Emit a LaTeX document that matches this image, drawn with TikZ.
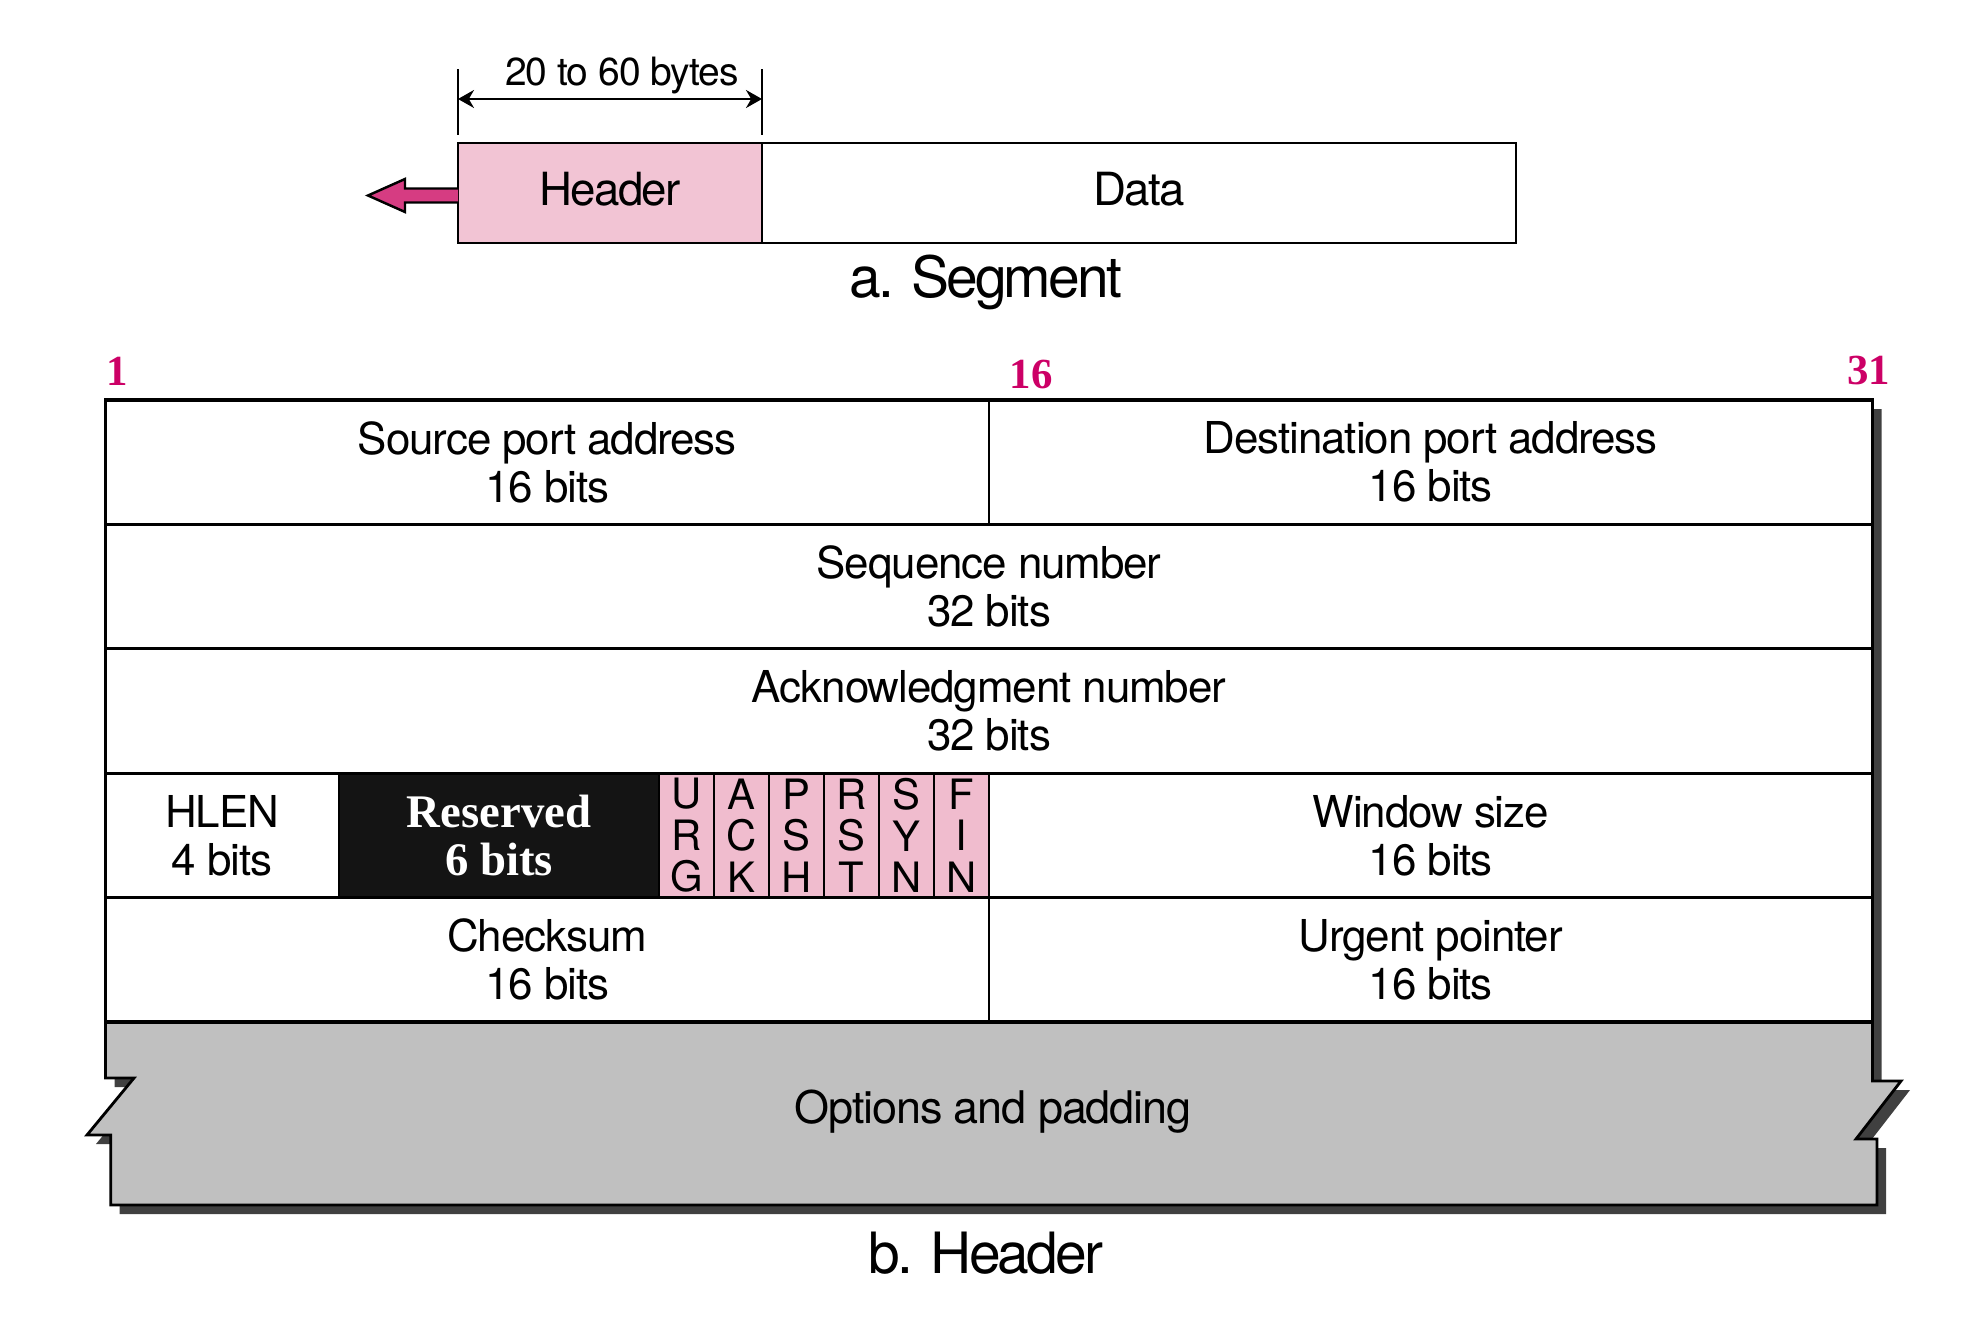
\documentclass[tikz,border=0pt]{standalone}
\usepackage{fontspec}
\setmainfont{TeX Gyre Heros}[LetterSpace=-2.5]
\newfontfamily\segfont{TeX Gyre Heros}[LetterSpace=-4]
\newfontfamily\capfont{TeX Gyre Heros}[LetterSpace=-5]
\newfontfamily\flagfont{TeX Gyre Heros}
\newfontfamily\timesfont{Liberation Serif}
\usetikzlibrary{positioning,calc,arrows.meta}

\definecolor{hdrpink}{RGB}{242,196,212}
\definecolor{flagpink}{RGB}{240,188,206}
\definecolor{arrowpink}{RGB}{214,60,130}
\definecolor{bitred}{RGB}{204,0,102}
\definecolor{optgray}{RGB}{192,192,192}
\definecolor{shadowgray}{RGB}{64,64,64}

\begin{document}
\begin{tikzpicture}[
    line width=0.8pt,
    field/.style={draw, rectangle, fill=white, outer sep=0pt, inner sep=0pt, minimum height=1.244cm, align=center, font=\fontsize{12.5}{13.7}\selectfont},
    half/.style={field, minimum width=8.835cm},
    full/.style={field, minimum width=17.67cm},
    flagbit/.style={field, fill=flagpink, minimum width=0.55cm, font=\flagfont\fontsize{11.9}{11.8}\selectfont},
    segbox/.style={draw, rectangle, outer sep=0pt, minimum height=1.0cm, text height=0.33cm, text depth=0.09cm, font=\segfont\fontsize{13}{15}\selectfont},
    bitnum/.style={text=bitred, font=\timesfont\bfseries\fontsize{12.2}{14}\selectfont},
    caption/.style={anchor=base, font=\capfont\fontsize{16.2}{18}\selectfont},
    dimarrow/.style={{Stealth[length=0.16cm,width=0.18cm]}-{Stealth[length=0.16cm,width=0.18cm]}, line width=0.6pt}
]
    \useasboundingbox (0,0) rectangle (19.84,-13.28);

    % a. Segment
    \node[segbox, fill=hdrpink, minimum width=3.04cm] (seghdr) at (6.10,-1.93) {Header};
    \node[segbox, fill=white, minimum width=7.54cm, right=0pt of seghdr] (segdata) {Data};
    \draw[fill=arrowpink, line width=0.7pt] ([yshift=-0.095cm]seghdr.west) -- ++(-0.53,0) -- ++(0,-0.095)
        -- ++(-0.37,0.165) -- ++(0.37,0.165) -- ++(0,-0.095) -- ++(0.53,0);
    \draw[line width=0.6pt] ([yshift=0.08cm]seghdr.north west) -- ++(0,0.66);
    \draw[line width=0.6pt] ([yshift=0.08cm]seghdr.north east) -- ++(0,0.66);
    \draw[dimarrow] ([yshift=0.44cm]seghdr.north west) -- node[above=0.04cm, inner sep=0pt, xshift=0.12cm, font=\fontsize{11.1}{13}\selectfont] {20 to 60 bytes} ([yshift=0.44cm]seghdr.north east);
    \node[caption] (capseg) at (9.855,-2.97) {a. Segment};

    % b. Header: shadow and options first
    \fill[shadowgray, shift={(0.09,-0.09)}] (1.055,-4.00) -- (18.725,-4.00) -- (18.725,-10.81) -- (19.01,-10.81)
        -- (18.56,-11.39) -- (18.77,-11.39) -- (18.77,-12.05) -- (1.107,-12.05) -- (1.107,-11.35) -- (0.87,-11.35)
        -- (1.34,-10.78) -- (1.055,-10.78) -- cycle;
    \draw[fill=optgray] (1.055,-10.22) -- (1.055,-10.78) -- (1.34,-10.78) -- (0.87,-11.35) -- (1.107,-11.35)
        -- (1.107,-12.05) -- (18.77,-12.05) -- (18.77,-11.39) -- (18.56,-11.39) -- (19.01,-10.81) -- (18.725,-10.81)
        -- (18.725,-10.22) -- cycle;
    \node[anchor=base, font=\fontsize{12.8}{14}\selectfont] (options) at (9.93,-11.23) {Options and padding};

    \node[half, anchor=north west] (srcport) at (1.055,-4.00) {Source port address\\16 bits};
    \node[half, right=0pt of srcport] (dstport) {Destination port address\\16 bits};
    \node[full, anchor=north west] (seqnum) at (srcport.south west) {Sequence number\\32 bits};
    \node[full, anchor=north west] (acknum) at (seqnum.south west) {Acknowledgment number\\32 bits};
    \node[field, minimum width=2.335cm, anchor=north west] (hlen) at (acknum.south west) {HLEN\\4 bits};
    \node[field, fill=black!92, text=white, minimum width=3.20cm, font=\timesfont\bfseries\fontsize{13.3}{13.6}\selectfont,
        right=0pt of hlen, alias=flag0] (reserved) {Reserved\\6 bits};
    \foreach \letters [count=\i, remember=\i as \j (initially 0)] in {U\\R\\G, A\\C\\K, P\\S\\H, R\\S\\T, S\\Y\\N, F\\I\\N}
        \node[flagbit, right=0pt of flag\j] (flag\i) {\letters};
    \node[half, right=0pt of flag6] (window) {Window size\\16 bits};
    \node[half, anchor=north west] (checksum) at (hlen.south west) {Checksum\\16 bits};
    \node[half, right=0pt of checksum] (urgent) {Urgent pointer\\16 bits};
    \draw[line width=1.1pt] (srcport.north west) rectangle (urgent.south east);

    % bit positions
    \node[bitnum] (bit1) at ([shift={(0.12,0.29)}]srcport.north west) {1};
    \node[bitnum] (bit16) at ([shift={(0.42,0.25)}]dstport.north west) {16};
    \node[bitnum] (bit31) at ([shift={(-0.04,0.29)}]dstport.north east) {31};

    \node[caption] (caphdr) at (9.86,-12.73) {b. Header};
\end{tikzpicture}
\end{document}
